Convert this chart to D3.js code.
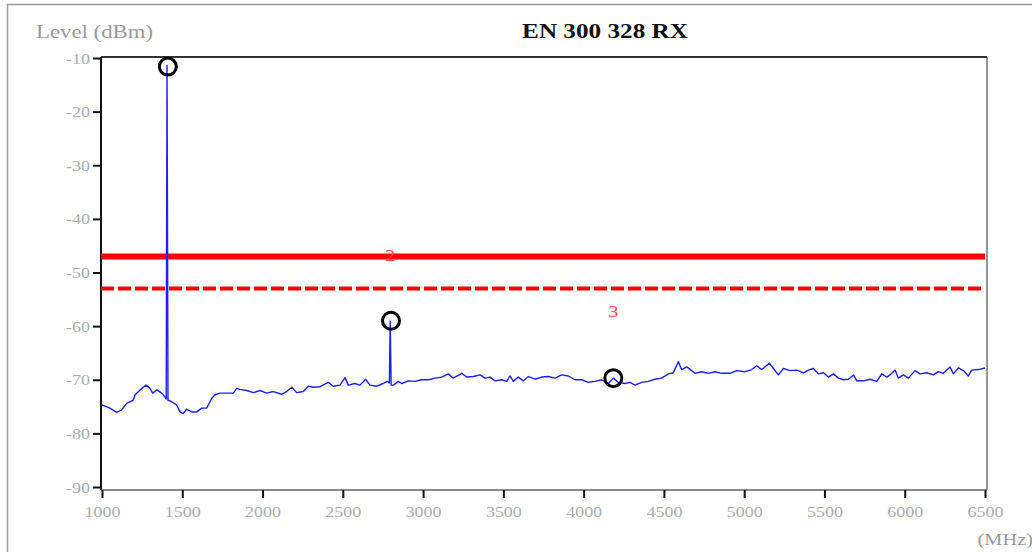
<!DOCTYPE html>
<html>
<head>
<meta charset="utf-8">
<script src="https://cdn.jsdelivr.net/npm/d3@7"></script>
<style>
  html, body { margin: 0; padding: 0; background: #fff; }
  svg { display: block; }
  text { font-family: "Liberation Serif", "Times New Roman", serif; }
</style>
</head>
<body>
<svg id="chart" width="1032" height="552"></svg>
<script>
// Receiver spurious sweep, 1 GHz – 6.5 GHz
const freqMHz = [
  1000, 1050, 1091, 1122, 1154, 1195, 1206, 1237, 1274, 1299, 1316, 1341, 1372, 1392, 1400,
  1405, 1411, 1434, 1465, 1486, 1506, 1527, 1559, 1590, 1621, 1652, 1683, 1704, 1735, 1777,
  1818, 1839, 1860, 1901, 1943, 1984, 2026, 2067, 2119, 2150, 2182, 2213, 2254, 2285, 2316,
  2358, 2410, 2441, 2482, 2514, 2534, 2576, 2607, 2642, 2669, 2711, 2752, 2777, 2790, 2795,
  2801, 2815, 2846, 2867, 2908, 2950, 2991, 3033, 3074, 3116, 3157, 3188, 3241, 3272, 3313,
  3355, 3386, 3417, 3448, 3490, 3521, 3541, 3562, 3593, 3624, 3656, 3697, 3739, 3780, 3822,
  3863, 3904, 3946, 3988, 4029, 4071, 4112, 4154, 4185, 4216, 4258, 4289, 4320, 4361, 4403,
  4444, 4486, 4528, 4559, 4590, 4610, 4642, 4673, 4694, 4735, 4777, 4818, 4860, 4911, 4953,
  5005, 5047, 5078, 5109, 5157, 5182, 5213, 5244, 5286, 5327, 5369, 5400, 5431, 5462, 5494,
  5525, 5556, 5587, 5618, 5649, 5681, 5701, 5743, 5784, 5826, 5857, 5888, 5908, 5940, 5960,
  5992, 6023, 6064, 6096, 6137, 6179, 6210, 6241, 6282, 6303, 6334, 6366, 6396, 6417, 6459,
  6500
];
const levelDbm = [
  -74.7, -75.3, -76.1, -75.6, -74.4, -73.8, -72.8, -71.9, -71.0, -71.6, -72.5, -71.9, -72.5, -73.2, -73.6,
  -11.4, -73.8, -74.1, -74.7, -76.0, -76.3, -75.5, -76.0, -76.0, -75.3, -75.3, -73.5, -72.8, -72.5, -72.5,
  -72.5, -71.6, -71.8, -72.0, -72.4, -72.0, -72.5, -72.2, -72.7, -72.2, -71.4, -72.4, -72.2, -71.2, -71.4,
  -71.3, -70.5, -71.2, -71.0, -69.6, -71.0, -70.7, -71.0, -69.9, -71.0, -71.2, -70.7, -70.3, -70.6, -59.1,
  -71.0, -71.0, -70.3, -70.7, -70.2, -70.3, -70.0, -70.0, -69.7, -69.5, -68.9, -69.7, -68.8, -69.5, -69.4,
  -69.1, -69.7, -69.5, -70.2, -70.0, -70.3, -69.3, -70.3, -69.5, -70.2, -69.4, -69.9, -69.5, -69.4, -69.7,
  -69.1, -69.3, -70.0, -70.0, -70.5, -70.3, -70.0, -70.7, -69.7, -70.5, -70.7, -70.5, -71.0, -70.5, -70.3,
  -69.9, -69.7, -68.9, -68.7, -66.6, -68.1, -67.6, -68.3, -68.8, -68.5, -68.8, -68.5, -68.8, -68.8, -68.3,
  -68.5, -68.1, -67.4, -68.1, -66.9, -67.9, -69.1, -67.9, -68.3, -68.2, -68.7, -68.2, -67.9, -68.9, -68.7,
  -69.5, -68.9, -69.7, -70.0, -69.9, -69.1, -70.2, -70.2, -69.9, -70.3, -68.9, -69.5, -69.1, -68.2, -69.7,
  -69.1, -69.7, -68.3, -68.9, -68.7, -69.1, -68.5, -68.8, -67.6, -68.9, -67.8, -68.3, -69.3, -68.2, -68.1,
  -67.8
];

// Peak markers on the trace
const markerFreq = [1410, 2800, 4185];
const markerLevel = [-11.6, -59.0, -69.7];

// Limit lines: solid (2) and dashed (3)
const limitNames = ["2", "3"];
const limitLevels = [-47, -53];
const limitLabelFreq = [2800, 4185];

const xTicks = [1000, 1500, 2000, 2500, 3000, 3500, 4000, 4500, 5000, 5500, 6000, 6500];
const yTicks = [-10, -20, -30, -40, -50, -60, -70, -80, -90];

const titleText = "EN 300 328 RX";
const yLabelText = "Level (dBm)";
const xUnitText = "(MHz)";

const svg = d3.select("#chart");
const plotL = 101, plotR = 987, plotT = 57, plotB = 490;
const stretch = 1.2;   // horizontally widened lettering

const x = d3.scaleLinear().domain([1000, 6500]).range([102, 985]);
const y = d3.scaleLinear().domain([-10, -90]).range([58, 487]);

// Outer frame
svg.append("rect")
  .attr("x", 7.5).attr("y", 4.5).attr("width", 1040).attr("height", 560)
  .attr("fill", "none").attr("stroke", "#9a9a9a").attr("stroke-width", 1.5);

// Plot frame: gray right & bottom, dark top
svg.append("line").attr("x1", plotR).attr("x2", plotR).attr("y1", plotT).attr("y2", plotB)
  .attr("stroke", "#8a8a8a").attr("stroke-width", 1.8);
svg.append("line").attr("x1", plotL).attr("x2", plotR).attr("y1", plotB).attr("y2", plotB)
  .attr("stroke", "#8a8a8a").attr("stroke-width", 1.8);
svg.append("line").attr("x1", plotL).attr("x2", plotR).attr("y1", plotT).attr("y2", plotT)
  .attr("stroke", "#333").attr("stroke-width", 2);

function stretchedText(g, px, py, str) {
  return g.append("text")
    .attr("transform", `translate(${px},${py}) scale(${stretch},1)`)
    .text(str);
}

// Y axis
const yAxis = svg.append("g")
  .attr("transform", `translate(${plotL},0)`)
  .call(d3.axisLeft(y).tickValues(yTicks).tickSize(8).tickFormat(() => ""));
yAxis.select(".domain").attr("d", `M0,${plotT}V${plotB}`).attr("stroke", "#111").attr("stroke-width", 2);
yAxis.selectAll(".tick line").attr("stroke", "#111").attr("stroke-width", 2);
yAxis.selectAll(".tick").each(function (d) {
  stretchedText(d3.select(this), -11, 5, String(d))
    .attr("text-anchor", "end").attr("font-size", 15).attr("fill", "#ababab");
});

// X axis
const xAxis = svg.append("g")
  .attr("transform", `translate(0,${plotB})`)
  .call(d3.axisBottom(x).tickValues(xTicks).tickSize(8).tickFormat(() => ""));
xAxis.select(".domain").remove();
xAxis.selectAll(".tick line").attr("stroke", "#111").attr("stroke-width", 2);
xAxis.selectAll(".tick").each(function (d) {
  stretchedText(d3.select(this), 0, 27, String(d))
    .attr("text-anchor", "middle").attr("font-size", 15).attr("fill", "#ababab");
});

// Titles
stretchedText(svg, 605, 38, titleText)
  .attr("text-anchor", "middle").attr("font-size", 21).attr("font-weight", "bold").attr("fill", "#111");
stretchedText(svg, 36, 38, yLabelText)
  .attr("font-size", 19).attr("fill", "#9a9a9a");
stretchedText(svg, 1033, 545, xUnitText)
  .attr("text-anchor", "end").attr("font-size", 17).attr("fill", "#9a9a9a");

// Limit lines
const limits = limitLevels.map((v, i) => ({ v, name: limitNames[i], f: limitLabelFreq[i] }));
svg.selectAll("line.limit").data(limits).join("line")
  .attr("class", "limit")
  .attr("x1", plotL).attr("x2", 985)
  .attr("y1", d => y(d.v)).attr("y2", d => y(d.v))
  .attr("stroke", "#ff0000")
  .attr("stroke-width", (d, i) => i === 0 ? 6 : 4)
  .attr("stroke-dasharray", (d, i) => i === 0 ? null : "13,4");

// Trace
const trace = freqMHz.map((f, i) => [f, levelDbm[i]]);
svg.append("path")
  .datum(trace)
  .attr("fill", "none")
  .attr("stroke", "#1f1fff")
  .attr("stroke-width", 1.4)
  .attr("stroke-linejoin", "round")
  .attr("d", d3.line().x(d => x(d[0])).y(d => y(d[1])));

// Limit labels
limits.forEach((d, i) => {
  stretchedText(svg, x(d.f) + (i === 0 ? -1 : 0), i === 0 ? y(d.v) + 5 : y(d.v) + 28, d.name)
    .attr("text-anchor", "middle").attr("font-size", 17).attr("fill", "#ff5050");
});

// Markers
svg.selectAll("circle.marker").data(markerFreq.map((f, i) => [f, markerLevel[i]])).join("circle")
  .attr("class", "marker")
  .attr("cx", d => x(d[0])).attr("cy", d => y(d[1]))
  .attr("r", 8.5)
  .attr("fill", "none").attr("stroke", "#000").attr("stroke-width", 3);
</script>
</body>
</html>
